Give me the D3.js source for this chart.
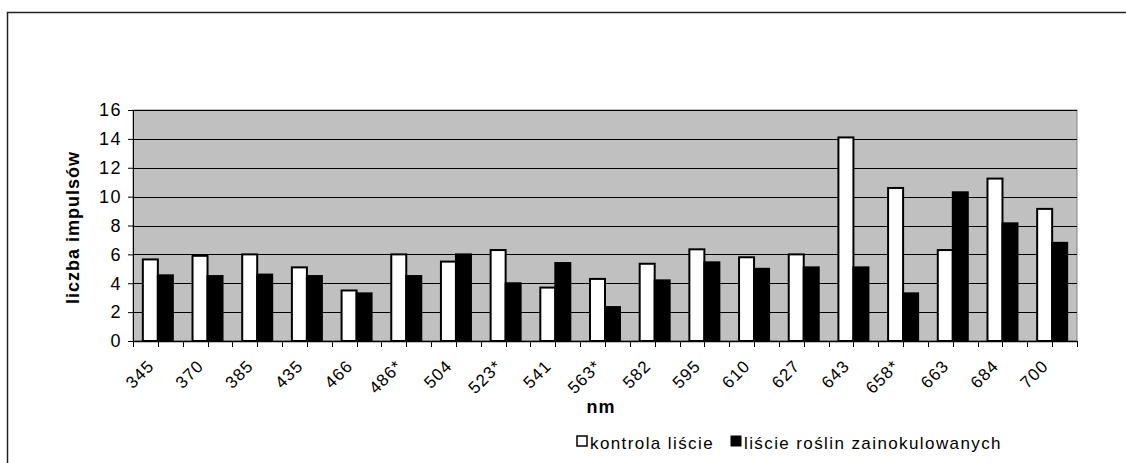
<!DOCTYPE html>
<html><head><meta charset="utf-8">
<script src="https://cdn.jsdelivr.net/npm/d3@7"></script>
<style>body{margin:0;background:#fff}svg{display:block}</style>
</head><body>
<script>
const categories = ["345","370","385","435","466","486*","504","523*","541","563*","582","595","610","627","643","658*","663","684","700"];
const kontrola = [5.65,5.9,6.0,5.1,3.5,6.0,5.5,6.3,3.7,4.3,5.35,6.35,5.8,6.0,14.1,10.6,6.3,11.25,9.15];
const zainokulowane = [4.55,4.5,4.6,4.5,3.3,4.5,6.0,4.0,5.4,2.35,4.2,5.45,5.0,5.1,5.1,3.3,10.3,8.15,6.8];
const yTicks = [0,2,4,6,8,10,12,14,16];
const seriesNames = ["kontrola liście","liście roślin zainokulowanych"];

const W=1126,H=463;
const svg=d3.select("body").append("svg").attr("width",W).attr("height",H);
const font="Liberation Sans, Arial, sans-serif";
// outer border
svg.append("rect").attr("x",7.5).attr("y",12.5).attr("width",1130).attr("height",500)
  .attr("fill","none").attr("stroke","#222").attr("stroke-width",1.5);

const L=133,R=1077,T=110,B=341;
const x=d3.scaleBand().domain(categories).range([L,R]).paddingInner(0).paddingOuter(0);
const y=d3.scaleLinear().domain([0,16]).range([B,T]);
const bw=15;

svg.append("rect").attr("x",L).attr("y",T).attr("width",R-L).attr("height",B-T)
  .attr("fill","#c0c0c0").attr("stroke","#808080").attr("stroke-width",1);
// grid
svg.append("g").selectAll("line").data(yTicks.filter(d=>d>0)).join("line")
  .attr("x1",L).attr("x2",R).attr("y1",d=>Math.round(y(d))+0.5).attr("y2",d=>Math.round(y(d))+0.5)
  .attr("stroke","#000").attr("stroke-width",1);

// bars
const g=svg.append("g");
categories.forEach((c,i)=>{
  const cx=x(c)+x.bandwidth()/2;
  g.append("rect").attr("x",cx-bw).attr("y",y(kontrola[i])).attr("width",bw).attr("height",y(0)-y(kontrola[i]))
    .attr("fill","#fff").attr("stroke","#000").attr("stroke-width",2);
  g.append("rect").attr("x",cx).attr("y",y(zainokulowane[i])).attr("width",bw).attr("height",y(0)-y(zainokulowane[i]))
    .attr("fill","#000").attr("stroke","#000").attr("stroke-width",2);
});

// y axis
const ya=svg.append("g").attr("transform",`translate(${L},0)`)
  .call(d3.axisLeft(y).tickValues(yTicks).tickSize(5).tickPadding(6));
ya.select(".domain").attr("stroke","#000");
ya.selectAll("text").attr("font-family",font).attr("font-size",18).attr("letter-spacing","1.5px").attr("fill","#000");
ya.selectAll("line").attr("stroke","#000");

// x axis
svg.append("line").attr("x1",L).attr("x2",R).attr("y1",B+0.5).attr("y2",B+0.5).attr("stroke","#000").attr("stroke-width",1.5);
const half=[];
categories.forEach(c=>{half.push(x(c));half.push(x(c)+x.bandwidth()/2);});
half.push(R);
svg.append("g").selectAll("line").data(half).join("line")
  .attr("x1",d=>Math.round(d)+0.5).attr("x2",d=>Math.round(d)+0.5).attr("y1",B).attr("y2",B+6)
  .attr("stroke","#000");
svg.append("g").selectAll("text").data(categories).join("text")
  .attr("transform",d=>`translate(${x(d)+x.bandwidth()/2-7},${B+22}) rotate(-45)`)
  .attr("text-anchor","end").attr("dy","0.35em")
  .attr("font-family",font).attr("font-size",17).attr("letter-spacing","1px").text(d=>d);

svg.append("text").attr("x",601).attr("y",413).attr("text-anchor","middle")
  .attr("font-family",font).attr("font-size",18).attr("font-weight","bold").attr("letter-spacing","1px").text("nm");
svg.append("text").attr("transform",`translate(79,${(T+B)/2+2}) rotate(-90)`).attr("text-anchor","middle")
  .attr("font-family",font).attr("font-size",18).attr("font-weight","bold").attr("letter-spacing","1px").text("liczba impulsów");

// legend
const lg=svg.append("g");
lg.append("rect").attr("x",577).attr("y",436).attr("width",10).attr("height",10).attr("fill","#fff").attr("stroke","#000").attr("stroke-width",1.5);
lg.append("text").attr("x",590).attr("y",449).attr("font-family",font).attr("font-size",17).attr("letter-spacing","1.4px").text(seriesNames[0]);
lg.append("rect").attr("x",731).attr("y",436).attr("width",10).attr("height",10).attr("fill","#000").attr("stroke","#000");
lg.append("text").attr("x",744).attr("y",449).attr("font-family",font).attr("font-size",17).attr("letter-spacing","1.4px").text(seriesNames[1]);
</script>
</body></html>
